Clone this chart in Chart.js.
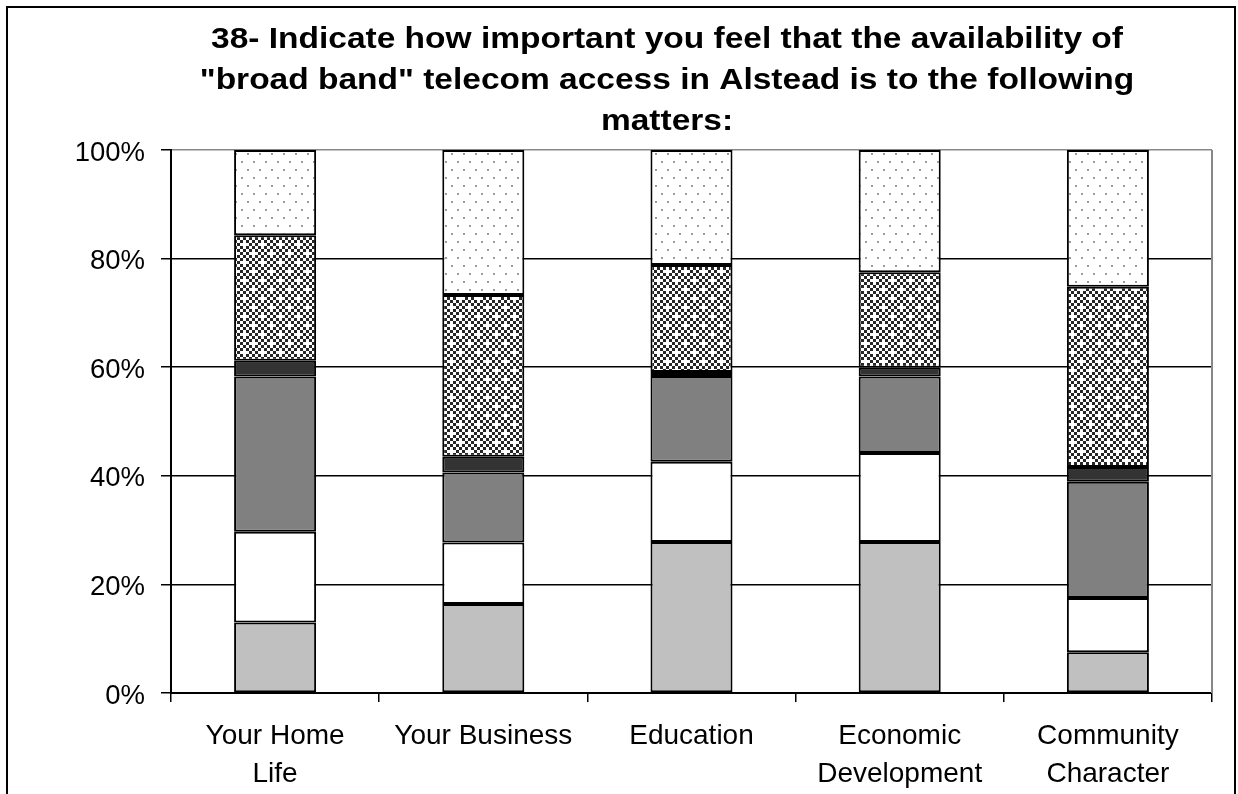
<!DOCTYPE html>
<html>
<head>
<meta charset="utf-8">
<title>Broadband importance</title>
<script src="https://cdn.jsdelivr.net/npm/chart.js@4.4.1/dist/chart.umd.min.js"></script>
<style>
  html, body { margin: 0; padding: 0; background: #fff; }
  #wrap { width: 1238px; height: 794px; }
</style>
</head>
<body>
<div id="wrap"><canvas id="c" width="1238" height="794"></canvas></div>
<script>
// Question categories (multi-line labels)
const categories = [["Your Home", "Life"], "Your Business", "Education", ["Economic", "Development"], ["Community", "Character"]];

// Share of responses per level, bottom to top (percent)
const level1 = [13.0, 16.4, 27.8, 27.8, 7.5];
const level2 = [16.7, 11.3, 14.8, 16.4, 10.0];
const level3 = [28.6, 12.9, 15.8, 14.1, 21.4];
const level4 = [2.9, 2.9, 0.7, 1.6, 2.7];
const level5 = [23.1, 29.8, 19.7, 17.6, 33.2];
const level6 = [15.7, 26.7, 21.2, 22.5, 25.2];

const yTicks = [0, 20, 40, 60, 80, 100];

const titleLines = [
  "38- Indicate how important you feel that the availability of",
  "\"broad band\" telecom access in Alstead is to the following",
  "matters:"
];

const FONT = "'Liberation Sans', Arial, Helvetica, sans-serif";

// Fill patterns
function checkerPattern() {
  const n = 6, s = 3;
  const t = document.createElement('canvas');
  t.width = n * s; t.height = n * s;
  const g = t.getContext('2d');
  g.fillStyle = '#fff'; g.fillRect(0, 0, t.width, t.height);
  g.fillStyle = '#262626';
  for (let i = 0; i < n; i++) {
    for (let j = 0; j < n; j++) {
      const hole = (i === 0 && j === 0) || (i === 3 && j === 3);
      if ((i + j) % 2 === 0 && !hole) g.fillRect(i * s, j * s, s, s);
    }
  }
  return g.createPattern(t, 'repeat');
}
function dotPattern() {
  const t = document.createElement('canvas');
  t.width = 12; t.height = 16;
  const g = t.getContext('2d');
  g.fillStyle = '#fff'; g.fillRect(0, 0, 12, 16);
  g.fillStyle = '#9a9a9a';
  g.fillRect(1, 1, 2, 2);
  g.fillRect(7, 9, 2, 2);
  return g.createPattern(t, 'repeat');
}

const ctx = document.getElementById('c').getContext('2d');

function ds(label, data, bg) {
  return {
    label, data, backgroundColor: bg,
    borderColor: '#000', borderWidth: 2, borderSkipped: false,
    barPercentage: 0.394, categoryPercentage: 1.0
  };
}

const frame = {
  id: 'frame',
  beforeDraw(chart) {
    const c = chart.ctx;
    c.save();
    c.fillStyle = '#fff';
    c.fillRect(0, 0, chart.width, chart.height);
    c.strokeStyle = '#000';
    c.lineWidth = 2;
    c.strokeRect(7, 7, 1228, 820);
    // title, set slightly wide
    c.fillStyle = '#000';
    c.font = "bold 29px " + FONT;
    c.textAlign = 'center';
    c.textBaseline = 'alphabetic';
    const base = [48, 89, 130];
    const sx = 1.155;
    titleLines.forEach((l, i) => {
      c.save();
      c.translate(667, base[i]);
      c.scale(sx, 1);
      c.fillText(l, 0, 0);
      c.restore();
    });
    c.restore();
  },
  afterDraw(chart) {
    const a = chart.chartArea;
    const c = chart.ctx;
    c.save();
    c.strokeStyle = '#888';
    c.lineWidth = 2;
    c.beginPath();
    c.moveTo(a.right, a.top);
    c.lineTo(a.right, a.bottom);
    c.stroke();
    c.restore();
  }
};

new Chart(ctx, {
  type: 'bar',
  data: {
    labels: categories,
    datasets: [
      ds('Level 1', level1, '#c0c0c0'),
      ds('Level 2', level2, '#ffffff'),
      ds('Level 3', level3, '#808080'),
      ds('Level 4', level4, '#333333'),
      ds('Level 5', level5, checkerPattern()),
      ds('Level 6', level6, dotPattern())
    ]
  },
  options: {
    responsive: false,
    animation: false,
    devicePixelRatio: 1,
    layout: { padding: { top: 150, right: 26, bottom: 0, left: 0 } },
    plugins: { legend: { display: false }, title: { display: false }, tooltip: { enabled: false } },
    scales: {
      x: {
        stacked: true,
        grid: { offset: true, drawOnChartArea: false, color: '#000', tickLength: 9, lineWidth: 1.5 },
        border: { color: '#000', width: 2 },
        ticks: { color: '#000', font: { family: FONT, size: 28, lineHeight: 1.36 }, padding: 15, maxRotation: 0, autoSkip: false },
        afterFit(s) { s.height = 101; }
      },
      y: {
        stacked: true,
        min: 0, max: 100,
        afterBuildTicks(s) { s.ticks = yTicks.map(v => ({ value: v })); },
        grid: {
          color: c => (c.tick && c.tick.value === 100) ? '#888' : '#000',
          tickColor: '#000', tickLength: 10, lineWidth: 1.5
        },
        border: { color: '#000', width: 2 },
        ticks: { color: '#000', font: { family: FONT, size: 27.5 }, padding: 16, labelOffset: 3, callback: v => v + '%' },
        afterFit(s) { s.width = 171; }
      }
    }
  },
  plugins: [frame]
});
</script>
</body>
</html>
